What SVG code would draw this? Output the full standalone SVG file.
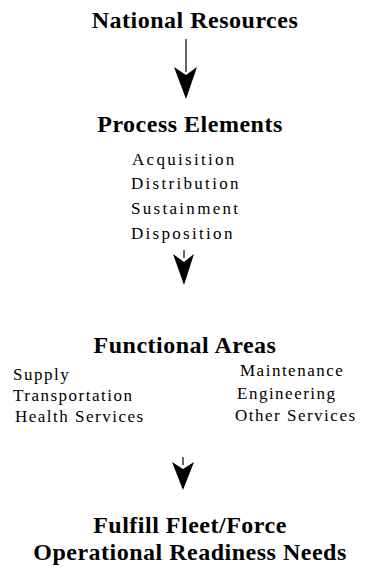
<svg xmlns="http://www.w3.org/2000/svg" width="372" height="567" viewBox="0 0 372 567">
<style>
.t{font-family:"Liberation Serif","Times New Roman",serif;font-weight:bold;font-size:24px;fill:#000;text-anchor:middle;letter-spacing:0.5px}
.i{font-family:"Liberation Serif","Times New Roman",serif;font-size:17px;fill:#000;letter-spacing:1.5px}
.p{letter-spacing:2.3px}
.ln{stroke:#000;stroke-width:1.2;fill:none}
.hd{fill:#000;stroke:none}
</style>
<rect width="372" height="567" fill="#fff"/>
<g id="national-resources"><text class="t" x="195" y="28">National Resources</text></g>
<g id="process-elements">
<text class="t" x="190" y="132">Process Elements</text>
<text class="i p" x="132" y="165">Acquisition</text>
<text class="i p" x="131" y="189">Distribution</text>
<text class="i p" x="131" y="214">Sustainment</text>
<text class="i p" x="131" y="239">Disposition</text>
</g>
<g id="functional-areas">
<text class="t" x="185" y="353">Functional Areas</text>
<text class="i" x="13" y="380">Supply</text>
<text class="i" x="13" y="401">Transportation</text>
<text class="i" x="15" y="422">Health Services</text>
<text class="i" x="240" y="376">Maintenance</text>
<text class="i" x="237" y="399">Engineering</text>
<text class="i" x="235" y="421">Other Services</text>
</g>
<g id="readiness">
<text class="t" x="190" y="533">Fulfill Fleet/Force</text>
<text class="t" x="190" y="560">Operational Readiness Needs</text>
</g>
<g id="connectors">
<line class="ln" x1="186" y1="39" x2="186" y2="72"/>
<path class="hd" d="M174,67 L186,75 L197,67 L186,99 Z"/>
<line class="ln" x1="184" y1="250" x2="184" y2="258"/>
<path class="hd" d="M173,254 L184,262 L194,254 L184,285 Z"/>
<line class="ln" x1="183" y1="457" x2="183" y2="465"/>
<path class="hd" d="M172,462 L183,469 L194,462 L183,490 Z"/>
</g>
</svg>
